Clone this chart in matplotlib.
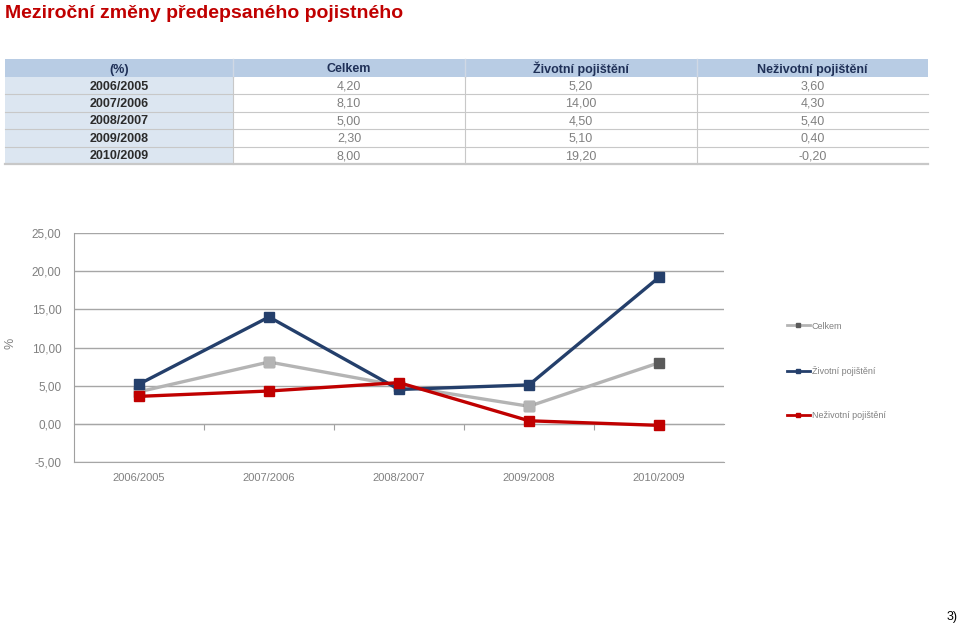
import matplotlib
matplotlib.use("Agg")
import matplotlib.pyplot as plt
from matplotlib.patches import Rectangle
from matplotlib.lines import Line2D

plt.rcParams['font.family'] = ['Liberation Sans', 'DejaVu Sans']

# ==============================
#  Data
# ==============================
periods = ["2006/2005", "2007/2006", "2008/2007", "2009/2008", "2010/2009"]
series_names = ["Celkem", "Životní pojištění", "Neživotní pojištění"]
celkem = [4.20, 8.10, 5.00, 2.30, 8.00]
zivotni = [5.20, 14.00, 4.50, 5.10, 19.20]
nezivotni = [3.60, 4.30, 5.40, 0.40, -0.20]
y_ticks = [-5, 0, 5, 10, 15, 20, 25]

title = "Meziroční změny předepsaného pojistného"
table_header = ["(%)"] + series_names
page_no = "3)"

c_grey = "#b4b4b4"
c_dark_grey = "#5a5a5a"
c_blue = "#243f6b"
c_red = "#c00000"
c_text = "#808080"


def cz(v):
    return f"{v:.2f}".replace(".", ",")


fig = plt.figure(figsize=(9.6, 6.25), dpi=100)

# ==============================
#  Title + table (pixel coordinates)
# ==============================
tax = fig.add_axes([0, 0, 1, 1])
tax.set_xlim(0, 960)
tax.set_ylim(625, 0)
tax.axis("off")

tax.text(5, 18, title, color=c_red, fontsize=14, fontweight="bold",
         va="baseline", ha="left")

col_edges = [5, 233, 465, 697, 928]
row_top = 59
head_h = 18
row_h = 17.4

# header row
for i in range(4):
    x0, x1 = col_edges[i], col_edges[i + 1]
    tax.add_patch(Rectangle((x0, row_top), x1 - x0, head_h,
                            facecolor="#b8cce4", edgecolor="none"))
    tax.text((x0 + x1) / 2, row_top + 13.5, table_header[i],
             ha="center", va="baseline", fontsize=9, fontweight="bold",
             color="#1f3057")
    if i > 0:
        tax.plot([x0, x0], [row_top, row_top + head_h], color="#d0d8e4", lw=1)

cols = [celkem, zivotni, nezivotni]
for r, per in enumerate(periods):
    y0 = row_top + head_h + r * row_h
    tax.add_patch(Rectangle((col_edges[0], y0), col_edges[1] - col_edges[0], row_h,
                            facecolor="#dce6f1", edgecolor="none"))
    tax.text((col_edges[0] + col_edges[1]) / 2, y0 + 12.5, per,
             ha="center", va="baseline", fontsize=9, fontweight="bold",
             color="#2b2b2b")
    for c in range(3):
        x0, x1 = col_edges[c + 1], col_edges[c + 2]
        tax.text((x0 + x1) / 2, y0 + 12.5, cz(cols[c][r]),
                 ha="center", va="baseline", fontsize=9, color=c_text)
    yb = y0 + row_h
    lw = 1.6 if r == len(periods) - 1 else 0.8
    tax.plot([col_edges[0], col_edges[-1]], [yb, yb], color="#c8c8c8", lw=lw)

table_bottom = row_top + head_h + len(periods) * row_h
for x in col_edges[1:-1]:
    tax.plot([x, x], [row_top + head_h, table_bottom], color="#c8c8c8", lw=0.8)

tax.text(958, 617, page_no, ha="right", va="center", fontsize=9, color="black")

# ==============================
#  Line chart
# ==============================
ax = fig.add_axes([74 / 960, 163 / 625, 650 / 960, 229 / 625])
x = list(range(len(periods)))

ax.plot(x, celkem, color=c_grey, lw=2.4, marker="s", ms=7.5,
        mfc=c_dark_grey, mec=c_dark_grey, zorder=3)
ax.plot(x[:-1], celkem[:-1], ls="none", marker="s", ms=7.5,
        mfc=c_grey, mec=c_grey, zorder=3)
ax.plot(x, zivotni, color=c_blue, lw=2.4, marker="s", ms=7.5, zorder=4)
ax.plot(x, nezivotni, color=c_red, lw=2.4, marker="s", ms=7.5, zorder=5)

ax.set_xlim(-0.5, len(periods) - 0.5)
ax.set_ylim(y_ticks[0], y_ticks[-1])
ax.set_yticks(y_ticks)
ax.set_yticklabels([cz(v) for v in y_ticks], fontsize=8.5, color=c_text)
ax.set_xticks(x)
ax.set_xticklabels(periods, fontsize=8, color=c_text)
ax.tick_params(axis="x", length=0, pad=8)
ax.tick_params(axis="y", length=0, pad=9)
ax.grid(axis="y", color="#a6a6a6", lw=1)
ax.set_axisbelow(True)
for s in ["top", "right"]:
    ax.spines[s].set_visible(False)
ax.spines["left"].set_color("#a0a0a0")
ax.spines["bottom"].set_color("#a6a6a6")

# category axis crossing at zero with tick marks between categories
zero_frac = (0 - y_ticks[0]) / (y_ticks[-1] - y_ticks[0])
sec = ax.secondary_xaxis(zero_frac)
sec.set_xticks([i + 0.5 for i in x[:-1]])
sec.set_xticklabels([])
sec.tick_params(length=4, color="#a0a0a0", direction="out")
sec.spines["bottom"].set_color("#a0a0a0")

ax.set_ylabel("%", fontsize=9, color=c_text)
ax.yaxis.set_label_coords(-57 / 650, 0.52)

handles = [
    Line2D([], [], color=c_grey, lw=2, marker="s", ms=3.5, mfc=c_dark_grey, mec=c_dark_grey),
    Line2D([], [], color=c_blue, lw=2, marker="s", ms=3.5),
    Line2D([], [], color=c_red, lw=2, marker="s", ms=3.5),
]
fig.legend(handles, series_names, loc="upper left",
           bbox_to_anchor=(783 / 960, 1 - 318 / 625), frameon=False,
           fontsize=6.5, labelcolor=c_text, handlelength=2.6,
           handletextpad=0.2, labelspacing=3.9, borderaxespad=0)

fig.savefig("out.png", dpi=100)
